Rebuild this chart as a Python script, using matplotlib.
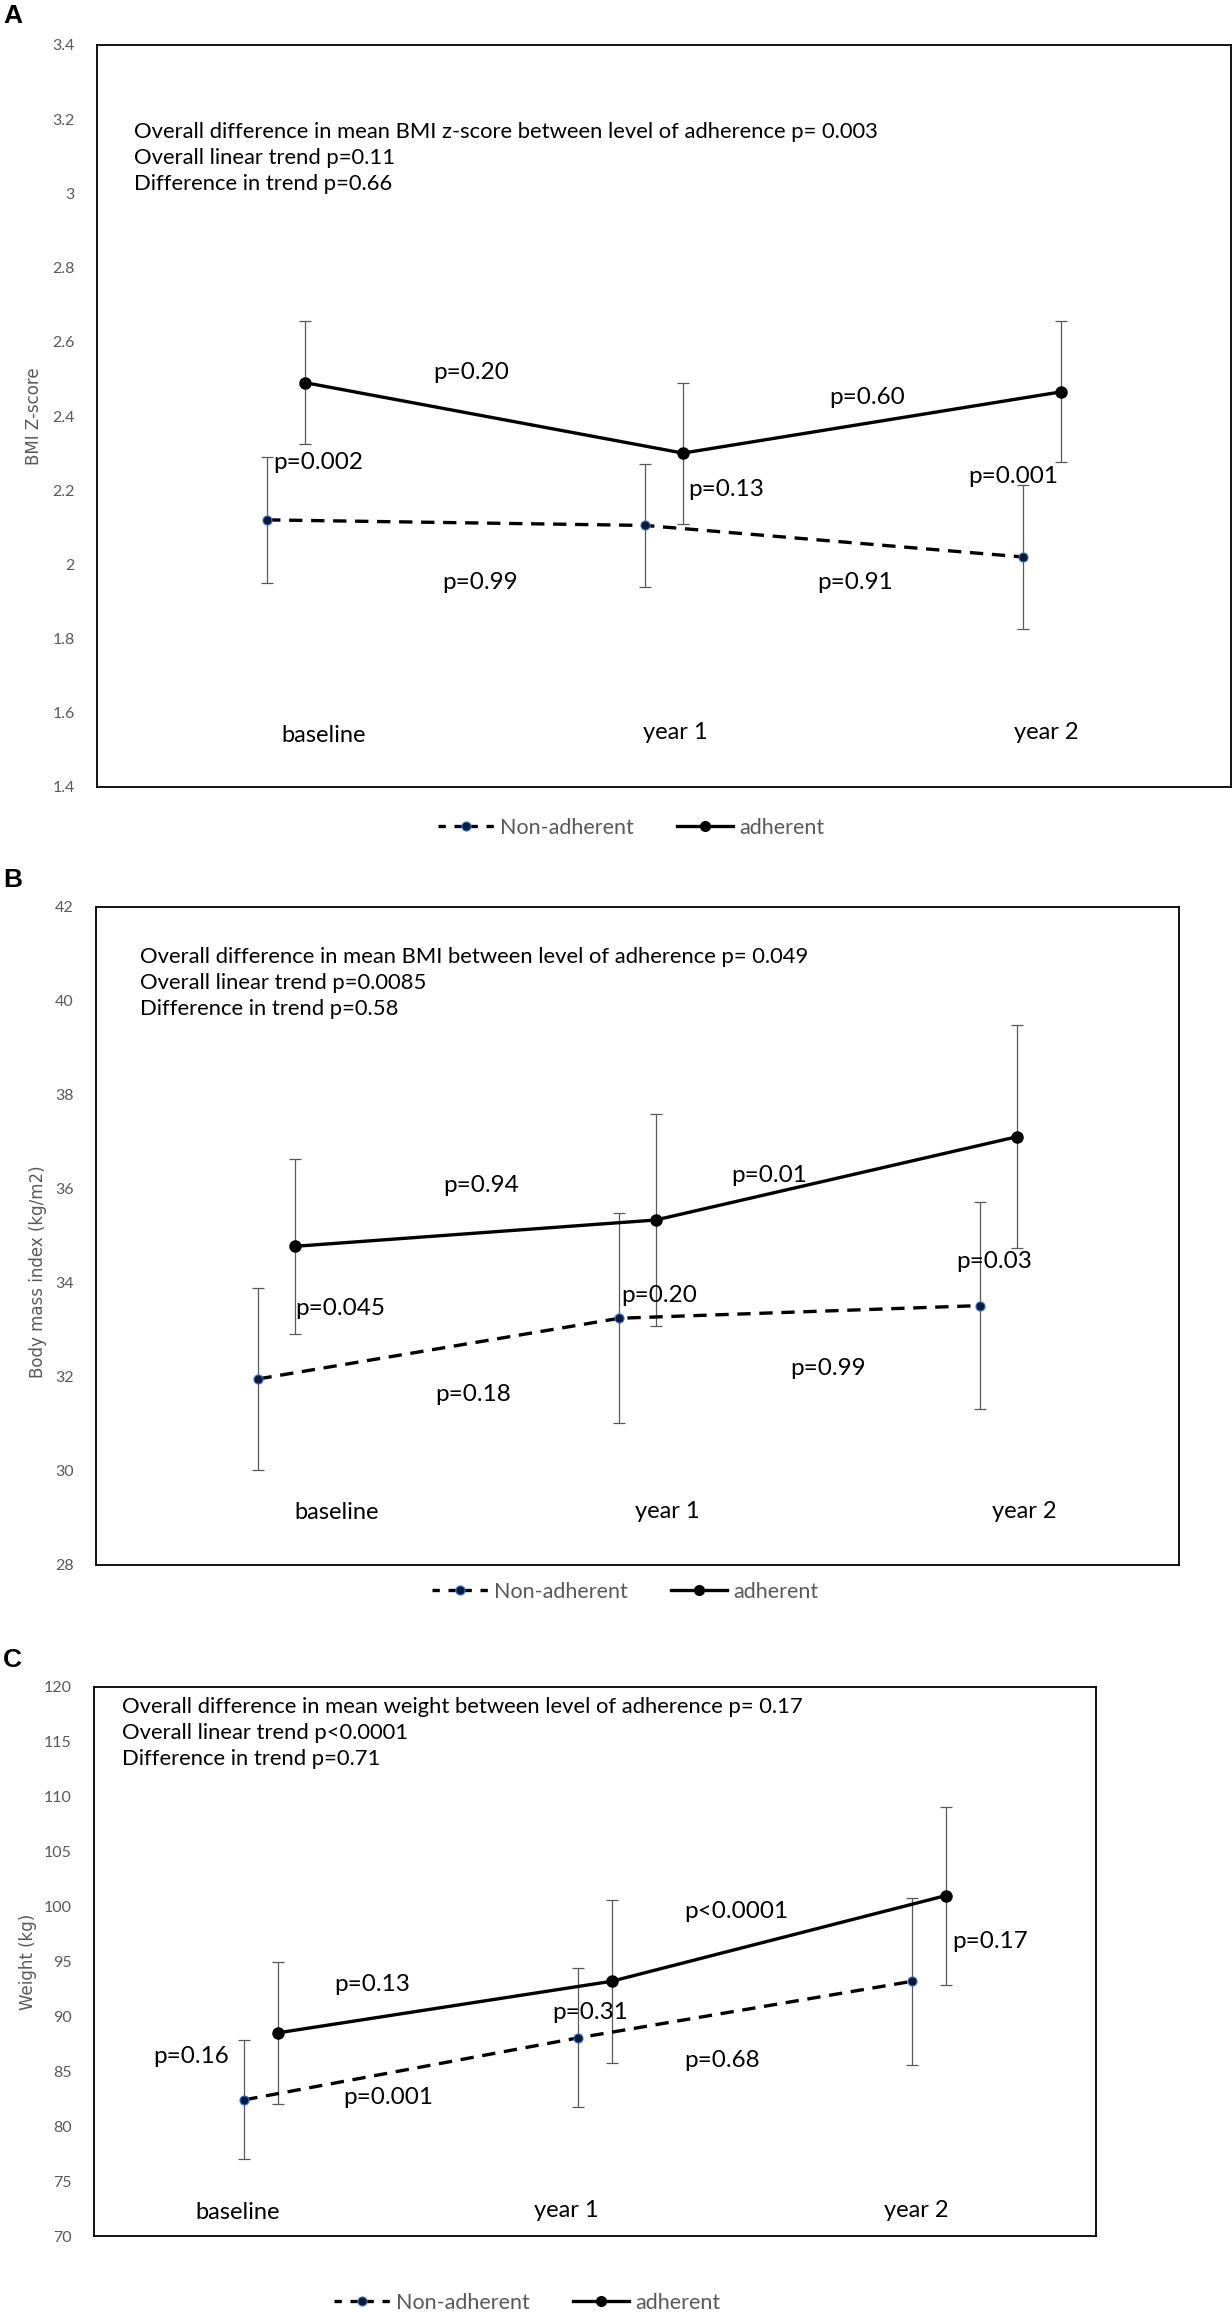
import numpy as np
import matplotlib
matplotlib.use('Agg')
import matplotlib.pyplot as plt
from matplotlib.lines import Line2D
from matplotlib.ticker import FuncFormatter

plt.rcParams['font.family'] = ['Lato', 'DejaVu Sans']

W, H = 1232, 2312
categories = ['baseline', 'year 1', 'year 2']
series_names = ['Non-adherent', 'adherent']

# Panel A: BMI z-score
bmiz_non = [2.12, 2.105, 2.02]
bmiz_non_err = [0.17, 0.165, 0.195]
bmiz_adh = [2.49, 2.30, 2.465]
bmiz_adh_err = [0.165, 0.19, 0.19]

# Panel B: BMI
bmi_non = [31.96, 33.25, 33.52]
bmi_non_err = [1.94, 2.23, 2.2]
bmi_adh = [34.78, 35.34, 37.11]
bmi_adh_err = [1.86, 2.25, 2.37]

# Panel C: weight
wt_non = [82.4, 88.05, 93.2]
wt_non_err = [5.42, 6.33, 7.6]
wt_adh = [88.5, 93.2, 101.0]
wt_adh_err = [6.5, 7.4, 8.1]

stats_a = ['Overall difference in mean BMI z-score between level of adherence p= 0.003',
           'Overall linear trend p=0.11',
           'Difference in trend p=0.66']
stats_b = ['Overall difference in mean BMI between level of adherence p= 0.049',
           'Overall linear trend p=0.0085',
           'Difference in trend p=0.58']
stats_c = ['Overall difference in mean weight between level of adherence p= 0.17',
           'Overall linear trend p<0.0001',
           'Difference in trend p=0.71']

# p-value labels: (text, x, y) in data units
notes_a = [('p=0.20', 0.389, 2.516), ('p=0.60', 1.437, 2.449), ('p=0.002', -0.034, 2.276),
           ('p=0.13', 1.063, 2.201), ('p=0.001', 1.804, 2.236), ('p=0.99', 0.413, 1.950),
           ('p=0.91', 1.405, 1.950)]
notes_b = [('p=0.94', 0.462, 36.07), ('p=0.01', 1.261, 36.28), ('p=0.045', 0.051, 33.45),
           ('p=0.20', 0.956, 33.74), ('p=0.03', 1.882, 34.45), ('p=0.99', 1.422, 32.19),
           ('p=0.18', 0.440, 31.62)]
notes_c = [('p=0.13', 0.219, 92.93), ('p<0.0001', 1.266, 99.58), ('p=0.17', 2.069, 96.85),
           ('p=0.31', 0.871, 90.40), ('p=0.16', -0.323, 86.39), ('p=0.001', 0.246, 82.65),
           ('p=0.68', 1.266, 86.0)]

fig = plt.figure(figsize=(W / 100, H / 100), dpi=100)
gray = '#595959'


def px_axes(l, t, r, b):
    return fig.add_axes([l / W, 1 - b / H, (r - l) / W, (b - t) / H])


def draw_panel(ax, non, non_err, adh, adh_err, ylim, yticks, stats, stats_x, stats_y,
               notes, cat_pos, cat_y):
    x = np.arange(len(categories))
    ax.errorbar(x - 0.05, non, yerr=non_err, fmt='none', ecolor=gray, elinewidth=0.9,
                capsize=4, capthick=0.9, zorder=1)
    ax.errorbar(x + 0.05, adh, yerr=adh_err, fmt='none', ecolor=gray, elinewidth=0.9,
                capsize=4, capthick=0.9, zorder=1)
    ax.plot(x - 0.05, non, color='black', lw=2.4, ls=(0, (4, 2.6)), marker='o', ms=6.5,
            mfc='#0b1a3a', mec='#3a6fc4', mew=0.8, zorder=3)
    ax.plot(x + 0.05, adh, color='black', lw=2.4, marker='o', ms=8, mfc='black',
            mec='black', zorder=3)
    ax.set_xlim(-0.5, 2.5)
    ax.set_ylim(*ylim)
    ax.set_yticks(yticks)
    ax.yaxis.set_major_formatter(FuncFormatter(lambda v, p: '{:g}'.format(round(v, 6))))
    ax.set_xticks([])
    ax.tick_params(axis='y', length=0, pad=16, labelsize=11.5, labelcolor=gray)
    for s in ax.spines.values():
        s.set_color('black')
        s.set_linewidth(1.3)
    for i, line in enumerate(stats):
        ax.text(stats_x, stats_y[i], line, fontsize=15.8, va='center', ha='left')
    for t, tx, ty in notes:
        ax.text(tx, ty, t, fontsize=17.5, va='center', ha='left')
    for c, cx, cy in zip(categories, cat_pos, cat_y):
        ax.text(cx, cy, c, fontsize=17, va='center', ha='left')


def add_legend(cx, cy):
    handles = [Line2D([], [], color='black', lw=2.4, ls=(0, (2.2, 2.6)), marker='o', ms=6.5,
                      mfc='#0b1a3a', mec='#3a6fc4', mew=0.8),
               Line2D([], [], color='black', lw=2.4, marker='o', ms=7, mfc='black')]
    leg = fig.legend(handles, series_names, loc='center', bbox_to_anchor=(cx / W, 1 - cy / H),
                     ncol=2, frameon=False, fontsize=15.5, handlelength=2.6, columnspacing=2.0,
                     handletextpad=0.3)
    for t in leg.get_texts():
        t.set_color(gray)


# Panel A
axa = px_axes(97, 45, 1231, 787)
draw_panel(axa, bmiz_non, bmiz_non_err, bmiz_adh, bmiz_adh_err, (1.4, 3.4),
           np.arange(1.4, 3.41, 0.2), stats_a, -0.402, [3.165, 3.095, 3.025],
           notes_a, [-0.013, 0.944, 1.926], [1.540, 1.546, 1.546])
fig.text(34 / W, 1 - 416 / H, 'BMI Z-score', rotation=90, ha='center', va='center',
         fontsize=12, color=gray, family='DejaVu Sans')
add_legend(631, 828)

# Panel B
axb = px_axes(96, 907, 1179, 1565)
draw_panel(axb, bmi_non, bmi_non_err, bmi_adh, bmi_adh_err, (28, 42),
           np.arange(28, 43, 2), stats_b, -0.379,
           [40.94, 40.38, 39.83], notes_b, [0.049, 0.994, 1.982], [29.11, 29.13, 29.13])
fig.text(38 / W, 1 - 1272 / H, 'Body mass index (kg/m2)', rotation=90, ha='center',
         va='center', fontsize=12, color=gray, family='DejaVu Sans')
add_legend(625, 1592)

# Panel C
axc = px_axes(94, 1687, 1096, 2236)
draw_panel(axc, wt_non, wt_non_err, wt_adh, wt_adh_err, (70, 120),
           np.arange(70, 121, 5), stats_c, -0.416,
           [118.18, 115.81, 113.44], notes_c, [-0.195, 0.817, 1.865], [72.17, 72.32, 72.32])
fig.text(28 / W, 1 - 1962 / H, 'Weight (kg)', rotation=90, ha='center', va='center',
         fontsize=12, color=gray, family='DejaVu Sans')
add_legend(527, 2303)

for lab, yy in [('A', 16), ('B', 880), ('C', 1660)]:
    fig.text(3 / W, 1 - yy / H, lab, fontsize=19, fontweight='bold', ha='left', va='center',
             family='Liberation Sans')

fig.savefig('out.png', dpi=100)
